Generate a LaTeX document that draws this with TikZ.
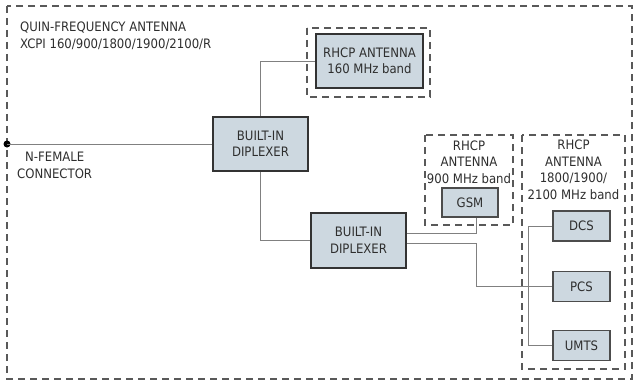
\documentclass[tikz,border=0pt]{standalone}
\usepackage{fontspec}
\setmainfont{DejaVu Sans Condensed}
\begin{document}
\begin{tikzpicture}[x=1pt,y=-1pt,
  txt/.style={font=\fontsize{13}{16.5}\selectfont,text=black!82},
  blk/.style={txt,draw=black!80,line width=1.5pt,fill=boxfill,inner sep=0pt,align=center},
  sblk/.style={txt,draw=black!70,line width=1.1pt,fill=boxfill,inner sep=0pt,align=center},
  grp/.style={draw=black!65,line width=1.4pt,dash pattern=on 7pt off 5pt},
  wire/.style={draw=black!50,line width=0.9pt},
  lbl/.style={txt,align=center,inner sep=0pt}]
\definecolor{boxfill}{HTML}{CDD8E0}
\useasboundingbox (0,0) rectangle (634,385);
% outer frame
\draw[grp] (7,6) rectangle (632,379);
\node[lbl,align=left,anchor=north west] (title) at (20,22) {QUIN-FREQUENCY ANTENNA\\XCPI 160/900/1800/1900/2100/R};
% connector
\fill[black] (7,144) circle (3.5);
\coordinate (conn) at (7,144);
\node[lbl,align=left,anchor=north west] (connlbl) at (17,152) {\hspace*{8pt}N-FEMALE\\CONNECTOR};
% diplexer 1
\node[blk,minimum width=95,minimum height=54] (d1) at (260.5,144) {BUILT-IN\\DIPLEXER};
% 160 MHz antenna
\draw[grp] (307,28) rectangle (430,97);
\node[blk,minimum width=107,minimum height=54] (a160) at (369.5,61) {RHCP ANTENNA\\160 MHz band};
% diplexer 2
\node[blk,minimum width=95,minimum height=55] (d2) at (358.5,240.5) {BUILT-IN\\DIPLEXER};
% 900 group
\draw[grp] (425,135) rectangle (513,225);
\node[lbl] (l900) at (469,162) {RHCP\\ANTENNA\\900 MHz band};
\node[sblk,minimum width=56,minimum height=29] (gsm) at (470,202.5) {GSM};
% 1800 group
\draw[grp] (522,135) rectangle (625,369);
\node[lbl] (l1800) at (573.5,170) {RHCP\\ANTENNA\\1800/1900/\\2100 MHz band};
\node[sblk,minimum width=57,minimum height=30] (dcs) at (581.5,226) {DCS};
\node[sblk,minimum width=57,minimum height=30] (pcs) at (581.5,286.5) {PCS};
\node[sblk,minimum width=57,minimum height=30] (umts) at (581.5,345.5) {UMTS};
% wires
\draw[wire] (conn) -- (d1.west);
\draw[wire] (d1.north) |- (a160.west);
\draw[wire] (d1.south) |- (d2.west);
\draw[wire] (d2.east |- 0,233) -| (gsm.south -| 476,0);
\draw[wire] (d2.east |- 0,243) -- (476,243) |- (pcs.west);
\coordinate (trunk) at (528,0);
\draw[wire] (dcs.west) -- (dcs.west -| trunk) -- (umts.west -| trunk) -- (umts.west);
\end{tikzpicture}
\end{document}
